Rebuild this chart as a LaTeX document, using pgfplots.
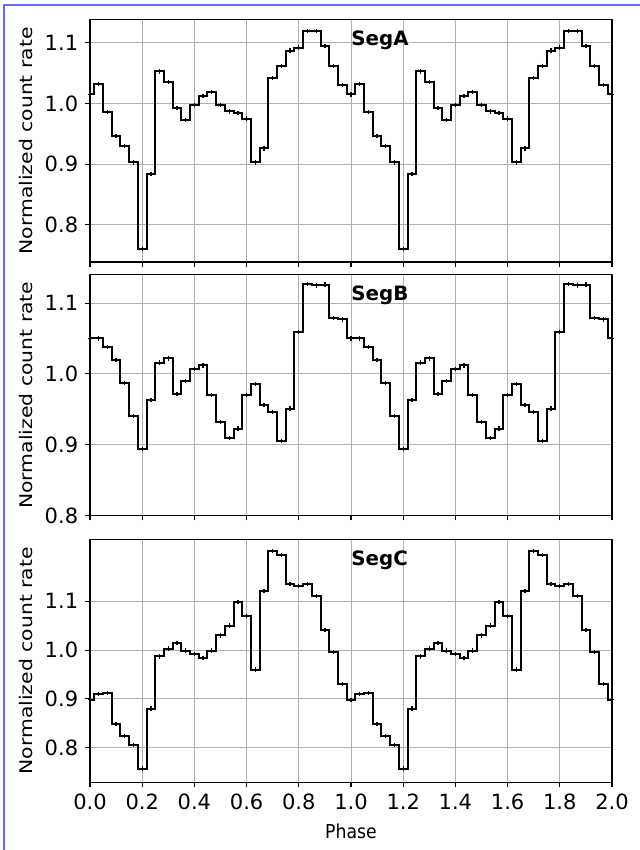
\documentclass[border=0pt]{standalone}
\usepackage{fontspec}
\setmainfont{DejaVu Sans}
\newfontfamily\xlabfont[FakeStretch=0.9]{DejaVu Sans}
\newfontfamily\ylabfont[FakeStretch=1.17]{DejaVu Sans}
\usepackage{pgfplots}
\usepackage{pgfplotstable}
\pgfplotsset{compat=1.18}

\definecolor{frameblue}{RGB}{96,108,240}
\definecolor{gridgray}{RGB}{176,176,176}

% phase, normalized rates of the three segments (two cycles)
\pgfplotstableread{
phase   A      B      C
0.0000  1.015  1.050  0.898
0.0333  1.032  1.050  0.910
0.0667  0.986  1.038  0.912
0.1000  0.946  1.020  0.848
0.1333  0.930  0.987  0.824
0.1667  0.903  0.941  0.805
0.2000  0.760  0.894  0.757
0.2333  0.884  0.963  0.880
0.2667  1.053  1.016  0.987
0.3000  1.035  1.022  1.003
0.3333  0.993  0.972  1.014
0.3667  0.973  0.990  0.999
0.4000  0.998  1.007  0.992
0.4333  1.012  1.012  0.984
0.4667  1.019  0.970  0.999
0.5000  0.998  0.932  1.030
0.5333  0.987  0.910  1.050
0.5667  0.984  0.923  1.098
0.6000  0.975  0.970  1.070
0.6333  0.903  0.986  0.960
0.6667  0.926  0.956  1.121
0.7000  1.042  0.946  1.203
0.7333  1.062  0.905  1.195
0.7667  1.087  0.951  1.135
0.8000  1.092  1.059  1.131
0.8333  1.119  1.127  1.135
0.8667  1.119  1.125  1.111
0.9000  1.095  1.126  1.041
0.9333  1.062  1.079  0.996
0.9667  1.030  1.077  0.930
1.0000  1.015  1.050  0.898
1.0333  1.032  1.050  0.910
1.0667  0.986  1.038  0.912
1.1000  0.946  1.020  0.848
1.1333  0.930  0.987  0.824
1.1667  0.903  0.941  0.805
1.2000  0.760  0.894  0.757
1.2333  0.884  0.963  0.880
1.2667  1.053  1.016  0.987
1.3000  1.035  1.022  1.003
1.3333  0.993  0.972  1.014
1.3667  0.973  0.990  0.999
1.4000  0.998  1.007  0.992
1.4333  1.012  1.012  0.984
1.4667  1.019  0.970  0.999
1.5000  0.998  0.932  1.030
1.5333  0.987  0.910  1.050
1.5667  0.984  0.923  1.098
1.6000  0.975  0.970  1.070
1.6333  0.903  0.986  0.960
1.6667  0.926  0.956  1.121
1.7000  1.042  0.946  1.203
1.7333  1.062  0.905  1.195
1.7667  1.087  0.951  1.135
1.8000  1.092  1.059  1.131
1.8333  1.119  1.127  1.135
1.8667  1.119  1.125  1.111
1.9000  1.095  1.126  1.041
1.9333  1.062  1.079  0.996
1.9667  1.030  1.077  0.930
2.0000  1.015  1.050  0.898
}\lcdata

\pgfplotsset{
  seg/.style={
    scale only axis,
    width=261pt,
    anchor=south west,
    xmin=0, xmax=2,
    xtick={0,0.2,0.4,0.6,0.8,1.0,1.2,1.4,1.6,1.8,2.0},
    ytick={0.8,0.9,1.0,1.1},
    xtick pos=lower, ytick pos=left,
    tick align=outside,
    major tick length=2.4pt,
    every tick/.style={black, line width=0.55pt},
    axis line style={black, line width=0.55pt},
    grid=major,
    major grid style={gridgray, line width=0.45pt},
    /pgf/number format/assume math mode=true,
    /pgf/number format/fixed,
    /pgf/number format/fixed zerofill,
    /pgf/number format/precision=1,
    tick label style={font=\fontsize{10.5}{12}\selectfont},
    ylabel={Normalized count rate},
    ylabel style={at={(axis description cs:-0.123,0.5)}, anchor=center,
      font=\ylabfont\fontsize{8.7}{10}\selectfont},
    xlabel style={font=\xlabfont\fontsize{9.6}{11}\selectfont},
  },
  lc/.style={black, line width=1pt, const plot mark mid,
    mark=+, mark size=1.1pt, mark options={line width=0.65pt}},
}

\newcommand{\segtitle}[1]{\node[anchor=north west, inner sep=0pt,
  font=\fontsize{9.9}{11}\selectfont\bfseries] at (rel axis cs:0.5,0.955) {#1};}

\begin{document}
\begin{tikzpicture}
\path[use as bounding box] (0,0) rectangle (320pt,425pt);
\draw[frameblue, line width=0.6pt] (2pt,0) -- (2pt,422.5pt) -- (320pt,422.5pt);

\begin{axis}[seg, at={(45pt,294pt)}, height=121.15pt,
  ymin=0.739, ymax=1.138, xticklabels={}]
\addplot[lc] table[x=phase, y=A] {\lcdata};
\segtitle{SegA}
\end{axis}

\begin{axis}[seg, at={(45pt,167.15pt)}, height=120.5pt,
  ymin=0.8, ymax=1.14, xticklabels={}]
\addplot[lc] table[x=phase, y=B] {\lcdata};
\segtitle{SegB}
\end{axis}

\begin{axis}[seg, at={(45pt,33.85pt)}, height=121.5pt,
  ymin=0.729, ymax=1.227, xlabel={Phase}]
\addplot[lc] table[x=phase, y=C] {\lcdata};
\segtitle{SegC}
\end{axis}
\end{tikzpicture}
\end{document}
